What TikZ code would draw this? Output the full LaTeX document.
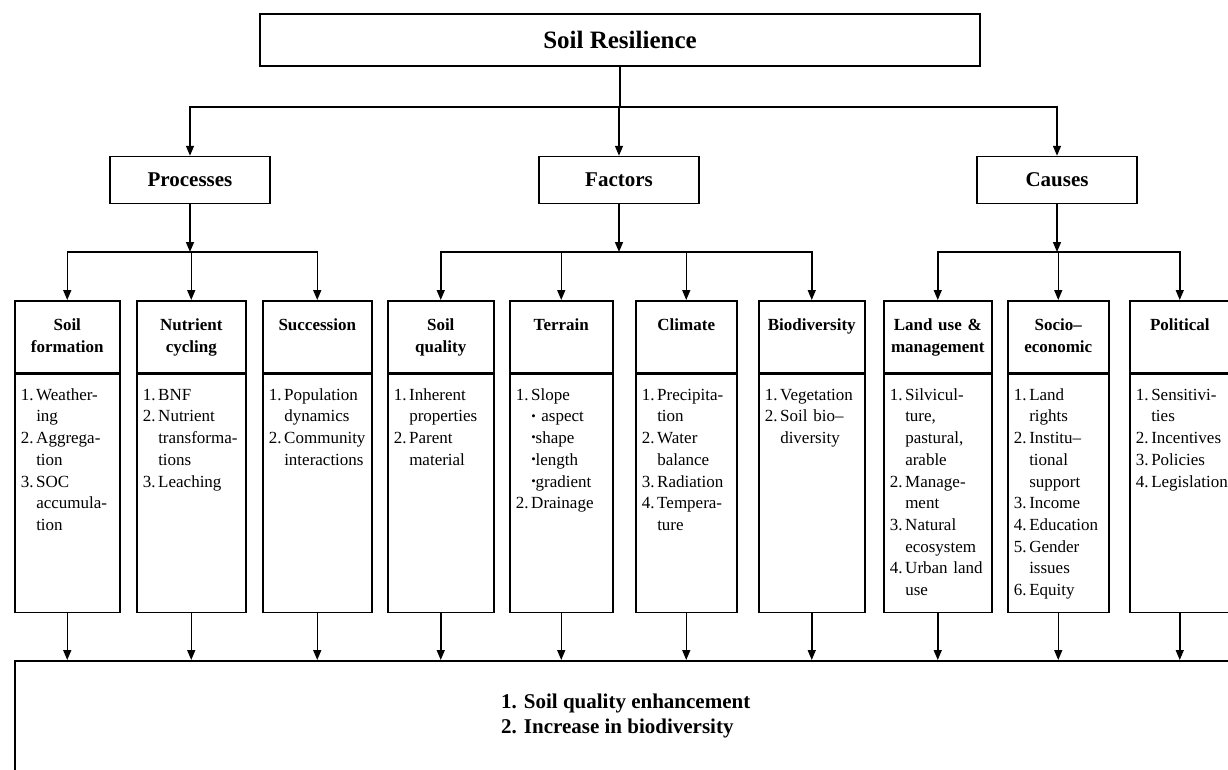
\documentclass[tikz,border=0pt]{standalone}
\usepackage{fontspec}
\setmainfont{Liberation Serif}
\usetikzlibrary{positioning,arrows.meta}
\newlength{\headHeight}
\setlength{\headHeight}{72pt}
\newlength{\listHeight}
\setlength{\listHeight}{238pt}
\newcommand{\itm}[2]{\raggedright\let\\\newline\hyphenpenalty=10000\relax\hangindent=15.5pt\hangafter=1\relax\noindent\makebox[15.5pt][l]{#1.}#2\par}
\newcommand{\bul}{\raisebox{.25ex}{\scalebox{.75}{\textbullet}}}
\tikzset{boxline/.style={shape=rectangle, draw, line width=1.5pt},
  topbox/.style={boxline, minimum width=720pt, minimum height=52pt, font=\bfseries\fontsize{25}{30}\selectfont},
  groupbox/.style={boxline, minimum width=160pt, minimum height=47pt, font=\bfseries\fontsize{21}{25}\selectfont},
  headbox/.style={boxline, anchor=north west, text width=#1, inner xsep=6pt, inner ysep=0pt, text height=30pt, text depth={\headHeight-30pt}, align=center, font=\bfseries\fontsize{17}{21.7}\selectfont},
  listbox/.style={boxline, text width=#1, inner xsep=6pt, inner ysep=0pt, text height=26pt, text depth={\listHeight-26pt}, font=\fontsize{17}{21.7}\selectfont},
  outbox/.style={boxline, anchor=north west, minimum width=1222pt, minimum height=110pt, align=left, font=\bfseries\fontsize{21}{25}\selectfont},
  wire/.style={line width=1.5pt, line cap=rect},
  feed/.style={line width=1.5pt, -{Triangle[length=10pt,width=8pt]}}}

\begin{document}
\begin{tikzpicture}[x=1pt, y=-1pt]
\useasboundingbox (0,0) rectangle (1228,769);
\node[topbox] (res) at (620,40) {Soil Resilience};
\node[groupbox] (proc) at (190,180) {Processes};
\node[groupbox] (fact) at (619,180) {Factors};
\node[groupbox] (caus) at (1057,180) {Causes};

\node[headbox=93pt] (formH) at (14,300) {Soil\\formation};
\node[listbox=93pt, below=0pt of formH] (formL) {\itm{1}{Weather-\\ing}\itm{2}{Aggrega-\\tion}\itm{3}{SOC\\accumula-\\tion}};
\node[headbox=97pt] (cycH) at (136,300) {Nutrient\\cycling};
\node[listbox=97pt, below=0pt of cycH] (cycL) {\itm{1}{BNF}\itm{2}{Nutrient\\transforma-\\tions}\itm{3}{Leaching}};
\node[headbox=97pt] (succH) at (262,300) {Succession};
\node[listbox=97pt, below=0pt of succH] (succL) {\itm{1}{Population\\dynamics}\itm{2}{Community\\interactions}};
\node[headbox=94pt] (qualH) at (387,300) {Soil\\quality};
\node[listbox=94pt, below=0pt of qualH] (qualL) {\itm{1}{Inherent\\properties}\itm{2}{Parent\\material}};
\node[headbox=91pt] (terrH) at (509,300) {Terrain};
\node[listbox=91pt, below=0pt of terrH] (terrL) {\itm{1}{Slope\\\bul\ aspect\\\bul shape\\\bul length\\\bul gradient}\itm{2}{Drainage}};
\node[headbox=89pt] (climH) at (635,300) {Climate};
\node[listbox=89pt, below=0pt of climH] (climL) {\itm{1}{Precipita-\\tion}\itm{2}{Water\\balance}\itm{3}{Radiation}\itm{4}{Tempera-\\ture}};
\node[headbox=94pt] (bioH) at (758,300) {Biodiversity};
\node[listbox=94pt, below=0pt of bioH] (bioL) {\itm{1}{Vegetation}\itm{2}{Soil bio--\\diversity}};
\node[headbox=96pt] (landH) at (883,300) {Land use \&\\management};
\node[listbox=96pt, below=0pt of landH] (landL) {\itm{1}{Silvicul-\\ture,\\pastural,\\arable}\itm{2}{Manage-\\ment}\itm{3}{Natural\\ecosystem}\itm{4}{Urban land\\use}};
\node[headbox=89pt] (socH) at (1007,300) {Socio--\\economic};
\node[listbox=89pt, below=0pt of socH] (socL) {\itm{1}{Land\\rights}\itm{2}{Institu--\\tional\\support}\itm{3}{Income}\itm{4}{Education}\itm{5}{Gender\\issues}\itm{6}{Equity}};
\node[headbox=88pt] (polH) at (1129,300) {Political};
\node[listbox=88pt, below=0pt of polH] (polL) {\itm{1}{Sensitivi-\\ties}\itm{2}{Incentives}\itm{3}{Policies}\itm{4}{Legislation}};

\node[outbox] (out) at (14,660) {1. Soil quality enhancement\\2. Increase in biodiversity};

\coordinate (busTop) at (0,107);
\coordinate (busMid) at (0,252);
\draw[wire] (res.south) -- (res.south |- busTop);
\draw[wire] (proc.north |- busTop) -- (caus.north |- busTop);
\foreach \g in {proc,fact,caus} {
  \draw[feed] (\g.north |- busTop) -- (\g.north);
  \draw[feed] (\g.south) -- (\g.south |- busMid);
}
\draw[wire] (formH.north |- busMid) -- (succH.north |- busMid);
\draw[wire] (qualH.north |- busMid) -- (bioH.north |- busMid);
\draw[wire] (landH.north |- busMid) -- (polH.north |- busMid);
\foreach \c in {form,cyc,succ,qual,terr,clim,bio,land,soc,pol} {
  \draw[feed] (\c H.north |- busMid) -- (\c H.north);
  \draw[feed] (\c L.south) -- (\c L.south |- out.north);
}
\end{tikzpicture}
\end{document}
